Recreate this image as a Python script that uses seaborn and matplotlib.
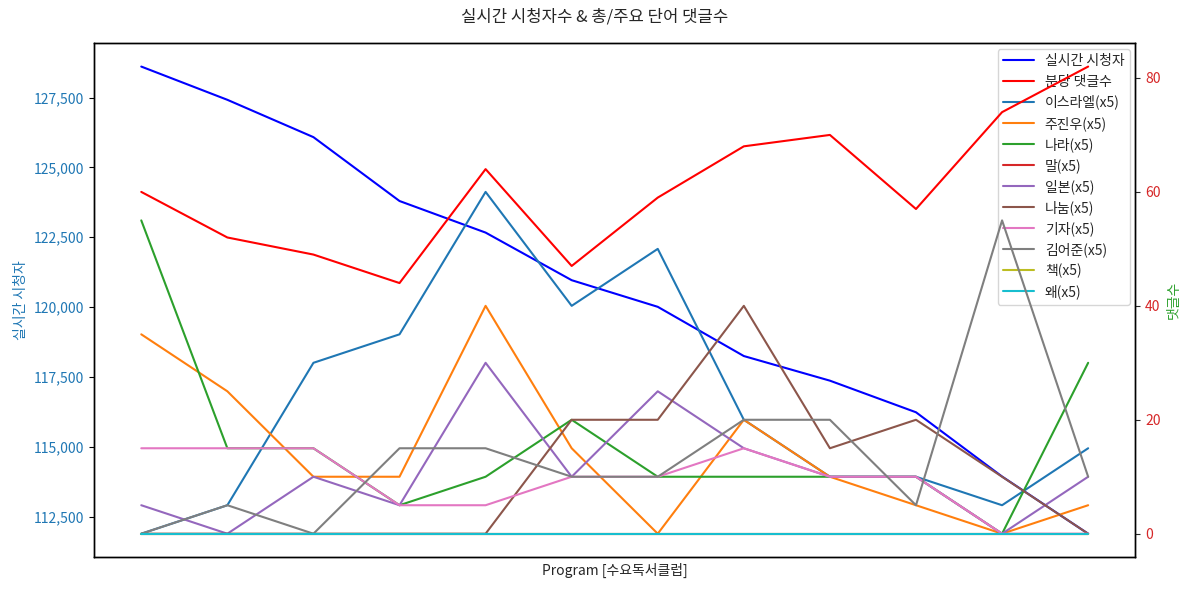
import numpy as np
import pandas as pd
import matplotlib
matplotlib.use("Agg")
import matplotlib.pyplot as plt
import matplotlib.ticker as mticker
import seaborn as sns

sns.set_style("white")
plt.rcParams['font.family'] = ['Noto Sans CJK KR', 'DejaVu Sans']
plt.rcParams['axes.unicode_minus'] = False

# ---- data ----
programs = list(range(12))
viewers = [128607, 127418, 126082, 123797, 122667, 120964,
           120011, 118250, 117369, 116238, 113939, 111893]
comments_per_min = [60, 52, 49, 44, 64, 47, 59, 68, 70, 57, 74, 82]

word_names = ['이스라엘', '주진우', '나라', '말', '일본', '나눔', '기자', '김어준', '책', '왜']
israel = [0, 5, 30, 35, 60, 40, 50, 20, 10, 10, 5, 15]
joojinwoo = [35, 25, 10, 10, 40, 15, 0, 20, 10, 5, 0, 5]
nara = [55, 15, 15, 5, 10, 20, 10, 10, 10, 10, 0, 30]
mal = [0] * 12
ilbon = [5, 0, 10, 5, 30, 10, 25, 15, 10, 10, 0, 10]
nanum = [0, 0, 0, 0, 0, 20, 20, 40, 15, 20, 10, 0]
gija = [15, 15, 15, 5, 5, 10, 10, 15, 10, 10, 0, 0]
kimeojun = [0, 5, 0, 15, 15, 10, 10, 20, 20, 5, 55, 10]
chaek = [0] * 12
wae = [0] * 12
word_series = [israel, joojinwoo, nara, mal, ilbon, nanum, gija, kimeojun, chaek, wae]

title = '실시간 시청자수 & 총/주요 단어 댓글수'
xlabel = 'Program [수요독서클럽]'
ylabel_left = '실시간 시청자'
ylabel_right = '댓글수'

df = pd.DataFrame({'program': programs, 'viewers': viewers, 'cpm': comments_per_min})
for name, vals in zip(word_names, word_series):
    df[name] = vals

fig, ax1 = plt.subplots(figsize=(11.89, 5.92), dpi=100)
ax2 = ax1.twinx()

sns.lineplot(data=df, x='program', y='viewers', ax=ax1, color='blue',
             label='실시간 시청자', legend=False, linewidth=1.5)
sns.lineplot(data=df, x='program', y='cpm', ax=ax2, color='red',
             label='분당 댓글수', legend=False, linewidth=1.5)
palette = sns.color_palette('tab10', 10)
for name, c in zip(word_names, palette):
    sns.lineplot(data=df, x='program', y=name, ax=ax2, color=c,
                 label=f'{name}(x5)', legend=False, linewidth=1.5)

ax1.set_xticks([])
ax1.set_xlabel(xlabel, fontsize=10)
ax1.set_ylabel(ylabel_left, color='tab:blue', fontsize=10)
ax2.set_ylabel(ylabel_right, color='tab:green', fontsize=10)
ax1.tick_params(axis='y', colors='tab:blue', labelsize=10, left=True)
ax1.tick_params(axis='y', which='both', color='black')
for t in ax1.get_yticklabels():
    t.set_color('tab:blue')
ax2.tick_params(axis='y', labelcolor='tab:red', labelsize=10, right=True)
ax1.yaxis.set_major_formatter(mticker.FuncFormatter(lambda v, p: f'{int(v):,}'))
ax1.yaxis.set_major_locator(mticker.MultipleLocator(2500))
ax2.yaxis.set_major_locator(mticker.MultipleLocator(20))

for ax in (ax1, ax2):
    for s in ax.spines.values():
        s.set_color('black')
        s.set_linewidth(1.0)

h1, l1 = ax1.get_legend_handles_labels()
h2, l2 = ax2.get_legend_handles_labels()
ax1.legend(h1 + h2, l1 + l2, loc='upper right', fontsize=10,
           handlelength=2.2, labelspacing=0.45, borderaxespad=0.4)

fig.suptitle(title, fontsize=12, y=0.985)
fig.subplots_adjust(left=0.079, right=0.955, top=0.927, bottom=0.059)
fig.savefig('out.png', dpi=100)
